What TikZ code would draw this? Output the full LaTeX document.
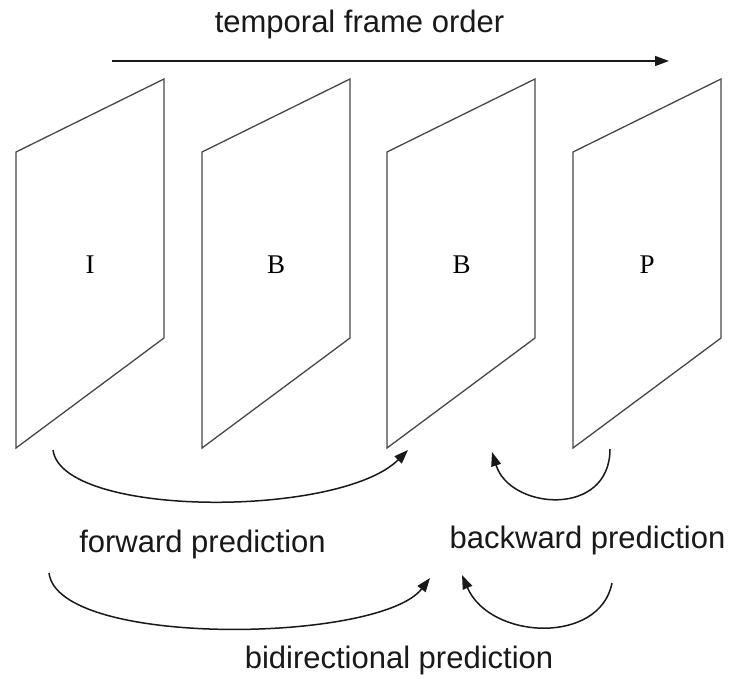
\documentclass[tikz,border=0pt]{standalone}
\usepackage{fontspec}
\setmainfont{Liberation Serif}
\setsansfont{Liberation Sans}
\usetikzlibrary{arrows.meta}
\begin{document}
\begin{tikzpicture}[x=1pt,y=-1pt,
  frame/.style={draw=black!72, line width=1.3pt, line join=miter},
  lab/.style={font=\sffamily\fontsize{31}{31}\selectfont, anchor=base, inner sep=0pt, text=black!90},
  flab/.style={font=\rmfamily\fontsize{27}{27}\selectfont, anchor=base, inner sep=0pt},
  arr/.style={draw=black!90, line width=1.5pt, -{Triangle[length=14pt,width=10pt]}}]
\useasboundingbox[fill=white] (0,0) rectangle (730,679);

% frames
\foreach \x in {16,202,387,573}{
  \draw[frame] (\x,152) -- (\x+148,79) -- (\x+148,338) -- (\x,448) -- cycle;
}
\node[flab] (fI)  at (90,273)  {I};
\node[flab] (fB1) at (276,273) {B};
\node[flab] (fB2) at (461.5,273) {B};
\node[flab] (fP)  at (647,273) {P};

% temporal order
\node[lab] (temporal) at (359.5,33) {temporal frame order};
\coordinate (tS) at (112,61);
\coordinate (tE) at (669,61);
\draw[arr] (tS) -- (tE);

% forward prediction
\coordinate (fwS) at (53,450);
\coordinate (fwE) at (408,450);
\draw[arr] (fwS) .. controls (62,518) and (340,518) .. (fwE);
\node[lab] (forward) at (202.5,552) {forward prediction};

% backward prediction
\coordinate (bwS) at (610,449);
\coordinate (bwE) at (492,452);
\draw[arr] (bwS) .. controls (610,518) and (510,510) .. (bwE);
\node[lab] (backward) at (587.5,548) {backward prediction};

% bidirectional prediction
\coordinate (biS1) at (49,573);
\coordinate (biE1) at (430,578);
\draw[arr] (biS1) .. controls (58,648) and (380,643) .. (biE1);
\coordinate (biS2) at (612,583);
\coordinate (biE2) at (462,575);
\draw[arr] (biS2) .. controls (600,645) and (490,640) .. (biE2);
\node[lab] (bidir) at (399,668) {bidirectional prediction};
\end{tikzpicture}
\end{document}
